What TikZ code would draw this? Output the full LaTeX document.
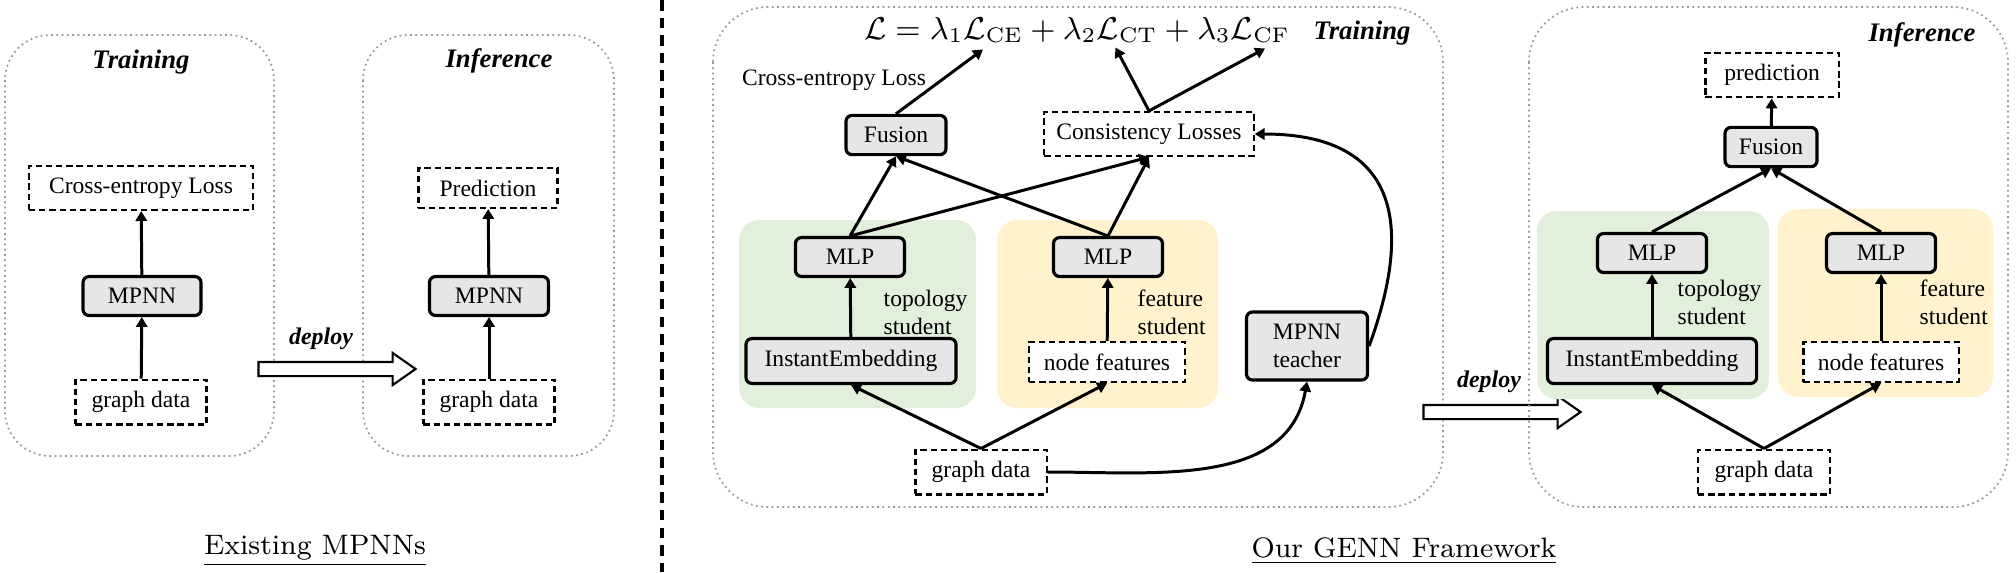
\documentclass[tikz,border=0pt]{standalone}
\usepackage[no-math]{fontspec}
\newfontfamily\tnr{Liberation Serif}
\usepackage{xcolor}
\usepackage{amsmath}
\usetikzlibrary{arrows.meta,positioning,shapes.arrows,calc}

\definecolor{boxgray}{HTML}{E7E6E6}
\definecolor{topogreen}{HTML}{E2EFDA}
\definecolor{featyellow}{HTML}{FFF2CC}

\tikzset{
  txt/.style={font=\tnr\fontsize{6.7}{8}\selectfont},
  gbox/.style={txt, draw, fill=boxgray, line width=0.9pt, rounded corners=0.06cm,
    minimum height=0.38cm, inner xsep=0.12cm},
  dbox/.style={txt, draw, fill=white, dash pattern=on 1.8pt off 1.1pt, line width=0.6pt,
    minimum height=0.38cm, inner xsep=0.12cm},
  stage/.style={draw=gray!80, densely dotted, line width=0.5pt, rounded corners=0.45cm},
  stagetitle/.style={font=\tnr\bfseries\itshape\fontsize{7.6}{9}\selectfont},
  flow/.style={line width=0.85pt, -{Triangle[length=2.8pt,width=3.2pt]}},
  region/.style={rounded corners=0.2cm},
  studentlabel/.style={txt, align=left, anchor=north west, inner sep=0pt},
  deployarrow/.style={single arrow, draw, fill=white, line width=0.6pt, inner sep=0pt,
    inner ysep=0.06cm, single arrow head extend=0.09cm, single arrow tip angle=70},
  deploytext/.style={font=\tnr\bfseries\itshape\fontsize{6.8}{8}\selectfont},
  caption/.style={font=\rmfamily\fontsize{8}{10}\selectfont},
  formula/.style={font=\fontsize{9}{11}\selectfont, inner sep=0pt}
}

\begin{document}
\begin{tikzpicture}[x=0.01cm,y=0.01cm]
  \useasboundingbox (0,0) rectangle (2016,-572);

  % existing MPNNs
  \draw[stage] (5,-35) rectangle (274,-456);
  \node[stagetitle] (trainA) at (141,-62) {Training};
  \node[dbox, minimum width=2.24cm] (ceA) at (141,-188) {Cross-entropy Loss};
  \node[gbox, minimum width=1.18cm] (mpnnA) at (142,-296) {MPNN};
  \node[dbox, minimum width=1.31cm] (graphA) at (141,-402) {graph data};
  \draw[flow] (graphA) -- (mpnnA);
  \draw[flow] (mpnnA) -- (ceA);

  \draw[stage] (363,-35) rectangle (614,-456);
  \node[stagetitle] (inferA) at (499,-61) {Inference};
  \node[dbox, minimum width=1.39cm] (predA) at (488,-188) {Prediction};
  \node[gbox, minimum width=1.19cm] (mpnnB) at (489,-296) {MPNN};
  \node[dbox, minimum width=1.31cm] (graphB) at (489,-402) {graph data};
  \draw[flow] (graphB) -- (mpnnB);
  \draw[flow] (mpnnB) -- (predA);

  \node[deployarrow, minimum height=1.57cm] (deployA) at (332,-369) {};
  \node[deploytext] (deployAlab) at (321,-339) {deploy};
  \node[caption] (capA) at (315,-551) {\underline{Existing MPNNs}};

  \draw[line width=1.2pt, dash pattern=on 3pt off 2pt] (662,0) -- (662,-572);

  % GENN training
  \draw[stage, rounded corners=0.55cm] (713,-7) rectangle (1443,-507);
  \fill[topogreen, region] (739,-220) rectangle (976,-408);
  \fill[featyellow, region] (997,-220) rectangle (1218,-408);
  \node[stagetitle] (trainB) at (1362,-33) {Training};
  \node[formula] (loss) at (1077,-30)
    {$\mathcal{L}=\lambda_1\mathcal{L}_{\mathrm{CE}}+\lambda_2\mathcal{L}_{\mathrm{CT}}+\lambda_3\mathcal{L}_{\mathrm{CF}}$};
  \coordinate (ceend) at ($(loss.south west)!0.28!(loss.south east)+(0,-6)$);
  \coordinate (ctend) at ($(loss.south west)!0.59!(loss.south east)+(0,-4)$);
  \coordinate (cfend) at ($(loss.south west)!0.94!(loss.south east)+(0,-5)$);
  \node[txt] (celab) at (834,-80) {Cross-entropy Loss};
  \node[gbox, minimum width=1.0cm] (fusionB) at (896,-135) {Fusion};
  \node[dbox, minimum width=2.08cm] (consist) at (1149,-134) {Consistency Losses};
  \node[gbox, minimum width=1.09cm] (mlpB1) at (850,-257) {MLP};
  \node[gbox, minimum width=1.09cm] (mlpB2) at (1108,-257) {MLP};
  \node[studentlabel] (topoB) at (883,-289) {topology\\student};
  \node[studentlabel] (featlabB) at (1137,-289) {feature\\student};
  \node[gbox, minimum width=2.1cm] (embedB) at (851,-361) {InstantEmbedding};
  \node[dbox, minimum width=1.56cm] (featB) at (1107,-362) {node features};
  \node[gbox, minimum width=1.21cm, minimum height=0.68cm, align=center] (teacher) at (1307,-346) {MPNN\\teacher};
  \node[dbox, minimum width=1.31cm] (graphC) at (981,-472) {graph data};

  \draw[flow] (graphC.north) -- (embedB.south);
  \draw[flow] (graphC.north) -- (featB.south);
  \draw[flow] (graphC.east) to[out=0,in=-100] (teacher.south);
  \draw[flow] (embedB) -- (mlpB1);
  \draw[flow] (featB) -- (mlpB2);
  \draw[flow] (mlpB1.north) -- (fusionB.south);
  \draw[flow] (mlpB1.north) -- (consist.south);
  \draw[flow] (mlpB2.north) -- (fusionB.south);
  \draw[flow] (mlpB2.north) -- (consist.south);
  \draw[flow] (teacher.east) to[out=70,in=0,out distance=1.6cm,in distance=1.2cm] (consist.east);
  \draw[flow] (fusionB.north) -- (ceend);
  \draw[flow] (consist.north) -- (ctend);
  \draw[flow] (consist.north) -- (cfend);

  \node[deployarrow, minimum height=1.57cm] (deployB) at (1497,-412) {};
  \node[deploytext] (deployBlab) at (1489,-382) {deploy};

  % GENN inference
  \draw[stage, rounded corners=0.55cm] (1529,-7) rectangle (2008,-507);
  \fill[topogreen, region] (1537,-211) rectangle (1769,-399);
  \fill[featyellow, region] (1778,-209) rectangle (1993,-397);
  \node[stagetitle] (inferB) at (1922,-35) {Inference};
  \node[dbox, minimum width=1.33cm] (predB) at (1772,-75) {prediction};
  \node[gbox, minimum width=0.92cm] (fusionC) at (1771,-147) {Fusion};
  \node[gbox, minimum width=1.09cm] (mlpC1) at (1652,-253) {MLP};
  \node[gbox, minimum width=1.09cm] (mlpC2) at (1881,-253) {MLP};
  \node[studentlabel] (topoC) at (1677,-279) {topology\\student};
  \node[studentlabel] (featlabC) at (1919,-279) {feature\\student};
  \node[gbox, minimum width=2.09cm] (embedC) at (1652,-361) {InstantEmbedding};
  \node[dbox, minimum width=1.55cm] (featC) at (1881,-362) {node features};
  \node[dbox, minimum width=1.32cm] (graphD) at (1764,-472) {graph data};

  \draw[flow] (graphD.north) -- (embedC.south);
  \draw[flow] (graphD.north) -- (featC.south);
  \draw[flow] (embedC) -- (mlpC1);
  \draw[flow] (featC) -- (mlpC2);
  \draw[flow] (mlpC1.north) -- (fusionC.south);
  \draw[flow] (mlpC2.north) -- (fusionC.south);
  \draw[flow] (fusionC) -- (predB);

  \node[caption] (capB) at (1404,-551) {\underline{Our GENN Framework}};
\end{tikzpicture}
\end{document}
